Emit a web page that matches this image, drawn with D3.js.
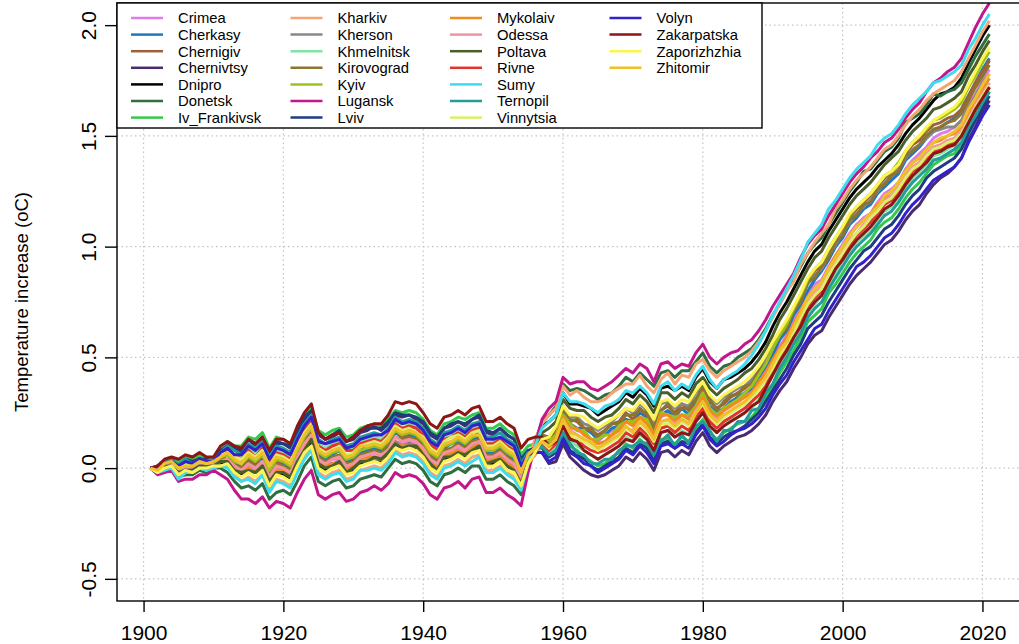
<!DOCTYPE html>
<html>
<head>
<meta charset="utf-8">
<script src="https://cdn.jsdelivr.net/npm/d3@7"></script>
<style>
  body { margin: 0; background: #fff; }
  svg { display: block; font-family: "Liberation Sans", Arial, Helvetica, sans-serif; }
</style>
</head>
<body>
<div id="chart"></div>
<script>
// temperature increase relative to 1901, one value per year 1901..2021,
// stored in hundredths of a degree C
var firstYear = 1901;

var crimea = [
  0,-1,0,2,-2,0,-1,1,1,2,
  3,4,1,-2,1,-1,3,-5,0,-1,
  -3,4,9,14,3,1,4,4,0,1,
  4,5,7,5,8,12,11,12,11,8,
  3,1,6,7,9,7,10,11,4,4,
  6,3,1,-6,3,7,11,10,15,23,
  19,17,16,13,12,15,17,18,21,20,
  23,22,17,23,25,23,24,23,28,32,
  27,23,26,28,31,33,35,39,44,49,
  55,60,66,72,78,83,85,91,96,101,
  106,110,113,115,120,124,126,129,135,139,
  142,145,149,151,152,154,157,164,169,175,180];
var cherkasy = [
  0,-1,1,3,-1,1,1,2,2,2,
  4,6,3,0,4,2,5,-2,3,2,
  0,7,13,17,6,4,6,8,3,4,
  7,8,9,8,11,16,14,15,14,11,
  6,4,9,11,12,10,13,14,7,7,
  9,6,4,-3,5,9,13,12,16,25,
  20,18,18,16,13,15,18,19,22,21,
  25,23,17,24,26,23,27,24,29,34,
  28,25,27,30,32,34,36,41,46,51,
  58,62,69,74,80,85,89,94,100,104,
  110,113,117,119,124,127,130,133,139,142,
  145,149,152,154,156,158,162,168,174,180,185];
var chernigiv = [
  0,-2,1,2,0,2,0,3,1,3,
  5,6,4,2,5,2,6,-1,3,3,
  1,8,14,17,7,5,8,8,4,6,
  8,10,10,9,13,17,14,16,15,12,
  7,4,10,11,13,11,14,16,8,8,
  10,7,5,-2,6,10,15,14,18,27,
  22,21,18,17,15,17,20,21,25,22,
  27,24,19,26,28,25,29,26,31,36,
  30,27,29,32,34,36,39,43,49,54,
  61,66,72,78,84,89,92,98,103,108,
  113,117,120,123,127,131,133,137,142,146,
  148,152,155,156,158,159,162,168,174,179,184];
var chernivtsy = [
  0,0,3,4,2,5,3,5,4,4,
  8,11,9,8,13,11,14,7,12,11,
  9,15,22,25,15,13,14,16,12,13,
  16,17,19,17,20,24,23,24,22,20,
  15,13,18,19,21,19,22,23,16,15,
  18,15,13,3,7,7,7,2,3,11,
  5,2,-1,-3,-4,-3,-1,1,5,3,
  7,4,-1,7,8,5,8,6,12,16,
  10,7,10,12,14,15,17,20,24,30,
  35,39,45,50,56,60,62,68,73,78,
  83,87,90,93,97,101,103,107,112,116,
  119,124,128,131,133,136,140,148,154,161,166];
var dnipro = [
  0,-1,1,1,-2,0,-1,1,0,1,
  2,3,-1,-3,-1,-2,0,-7,-2,-3,
  -5,2,8,12,1,-1,2,2,-2,-1,
  2,3,4,3,6,11,9,11,9,6,
  1,-1,4,5,7,5,7,9,2,2,
  4,1,-1,-6,4,11,19,21,24,34,
  29,29,28,27,24,26,28,30,34,32,
  36,33,28,36,37,35,37,35,41,45,
  39,36,40,41,43,45,48,52,57,64,
  70,75,81,87,93,98,101,107,112,117,
  122,126,129,132,136,139,142,146,151,155,
  158,162,166,169,170,172,176,183,189,195,200];
var donetsk = [
  0,-2,-1,0,-4,-3,-3,-1,-2,0,
  0,-2,-6,-9,-8,-10,-7,-14,-11,-10,
  -12,-6,1,5,-6,-8,-6,-5,-9,-8,
  -5,-4,-3,-4,0,4,2,3,2,-1,
  -6,-8,-3,-2,0,-2,1,1,-5,-5,
  -3,-6,-8,-12,1,12,21,24,28,38,
  35,36,35,33,31,33,34,37,41,39,
  43,40,37,43,44,41,44,44,48,52,
  46,43,46,47,50,52,54,58,63,69,
  74,80,85,91,97,101,104,110,115,120,
  125,129,134,135,139,143,145,149,156,158,
  160,164,169,168,170,171,174,180,186,191,196];
var ivFrankivsk = [
  0,0,3,3,3,5,4,6,4,4,
  9,12,10,10,14,13,16,9,14,13,
  11,18,24,27,17,15,17,18,14,15,
  18,19,20,19,22,26,25,26,25,22,
  17,15,20,21,23,22,24,25,18,18,
  20,17,15,6,10,11,11,7,9,16,
  10,8,5,3,1,2,5,7,11,9,
  13,10,5,13,13,11,14,12,18,22,
  16,13,16,18,20,21,23,27,32,37,
  43,48,53,59,66,69,72,79,83,88,
  93,97,100,103,108,111,113,117,122,126,
  129,133,137,139,141,142,146,153,159,165,170];
var kharkiv = [
  0,-2,0,1,-3,-1,-2,0,-1,1,
  1,1,-3,-6,-4,-6,-3,-10,-5,-6,
  -8,-1,5,9,-2,-4,-2,-1,-5,-4,
  -1,0,1,0,3,8,6,7,6,3,
  -2,-4,1,2,4,2,5,6,-1,-1,
  1,-2,-4,-9,4,13,20,24,27,37,
  33,35,32,30,30,31,34,36,38,38,
  42,37,34,40,43,38,42,41,47,49,
  44,41,44,46,48,50,53,57,62,68,
  74,80,84,92,97,102,106,110,117,121,
  126,130,133,136,140,144,146,150,155,159,
  162,166,169,171,173,175,179,185,191,197,202];
var kherson = [
  0,0,0,1,-2,0,-1,1,1,1,
  3,3,1,-2,0,-2,1,-6,-1,-2,
  -4,3,9,13,2,1,2,3,-1,0,
  3,4,4,4,7,12,10,11,10,7,
  2,0,5,6,7,6,9,10,3,3,
  5,2,0,-6,3,8,13,14,18,28,
  23,23,20,19,17,19,21,24,27,25,
  29,26,21,29,30,27,29,28,34,38,
  32,29,32,34,36,37,40,44,49,55,
  60,65,71,76,83,87,90,96,101,106,
  111,115,118,121,125,129,132,135,140,144,
  146,149,152,153,154,154,157,163,168,174,178];
var khmelnitsk = [
  0,0,2,3,1,3,2,4,3,3,
  6,8,6,5,9,7,10,3,8,7,
  5,12,17,22,11,9,11,12,8,9,
  12,13,14,13,16,21,20,20,19,16,
  11,9,14,15,17,15,18,19,11,12,
  14,11,9,1,7,8,10,7,10,18,
  12,10,8,6,4,6,8,10,14,12,
  15,13,8,16,17,14,17,15,21,25,
  19,16,19,22,23,25,27,31,36,42,
  47,52,58,64,70,74,78,83,88,93,
  98,102,105,108,112,116,118,121,127,131,
  134,137,141,142,144,146,149,156,161,167,172];
var kirovograd = [
  0,-1,1,1,-1,2,0,2,1,2,
  4,4,2,0,3,1,3,-3,2,1,
  -1,6,12,15,5,3,5,6,2,3,
  6,7,8,7,10,14,13,14,13,10,
  5,3,8,9,11,9,12,13,6,6,
  8,5,3,-4,5,9,14,13,17,27,
  21,22,18,18,14,17,20,20,24,24,
  26,25,18,26,29,24,27,27,31,37,
  31,26,30,33,33,37,38,44,47,54,
  60,63,71,75,84,86,91,95,102,105,
  112,114,119,120,126,128,132,134,141,143,
  146,150,153,154,156,157,160,166,172,177,182];
var kyiv = [
  0,-1,1,2,0,2,1,3,1,2,
  5,6,3,2,5,3,6,-1,4,3,
  1,8,14,18,7,5,7,8,4,5,
  8,9,10,9,12,17,15,16,15,12,
  7,5,10,11,13,11,14,15,8,8,
  10,7,5,-2,6,9,13,12,15,24,
  20,17,17,13,13,15,15,19,21,21,
  23,22,15,25,24,23,24,24,28,34,
  27,24,27,29,31,34,37,42,47,54,
  60,65,72,78,85,90,93,99,104,109,
  114,118,121,124,128,132,134,138,143,147,
  150,153,157,158,160,162,165,172,177,183,188];
var lugansk = [
  0,-3,-2,-1,-6,-5,-5,-3,-3,-1,
  -3,-5,-10,-14,-14,-16,-13,-18,-15,-16,
  -18,-11,-5,-1,-12,-14,-12,-11,-15,-14,
  -11,-10,-8,-10,-7,-2,-4,-3,-4,-7,
  -12,-14,-9,-8,-6,-9,-5,-4,-11,-11,
  -9,-12,-14,-17,-2,10,22,27,30,41,
  38,39,39,36,35,37,39,42,45,43,
  47,45,39,47,48,45,47,46,52,56,
  50,47,50,52,53,56,58,62,67,73,
  78,83,88,95,101,105,108,114,119,124,
  129,133,136,140,143,147,149,153,158,162,
  165,170,174,176,179,181,185,192,199,205,210];
var lviv = [
  0,1,2,4,1,4,3,4,4,3,
  8,10,9,7,13,10,13,7,11,11,
  10,16,23,26,16,13,15,17,12,14,
  17,18,18,18,21,25,24,24,23,21,
  16,14,18,20,21,20,22,24,17,16,
  18,15,13,4,8,9,9,5,7,14,
  8,6,4,1,-1,1,3,5,9,7,
  11,9,3,11,12,9,12,11,16,20,
  14,11,14,16,17,19,22,25,30,35,
  40,45,51,56,63,66,69,75,80,85,
  90,94,98,100,104,108,110,114,119,123,
  126,131,134,136,138,140,144,151,157,163,168];
var mykolaiv = [
  0,-1,1,1,-2,-1,-1,0,0,1,
  3,4,0,-1,0,-2,2,-6,-1,-1,
  -3,3,10,13,2,1,2,2,-1,1,
  3,5,5,4,8,11,10,10,10,7,
  2,1,5,7,8,6,9,11,3,4,
  5,2,0,-7,2,6,10,9,14,23,
  18,18,15,13,11,12,15,17,21,19,
  23,20,15,24,24,21,24,22,27,32,
  26,23,26,28,30,32,34,39,43,49,
  54,59,65,71,77,81,84,90,96,100,
  105,109,112,115,119,122,125,129,134,138,
  140,144,147,148,150,151,154,160,166,171,176];
var odessa = [
  0,-2,1,2,-1,1,-1,2,1,2,
  3,4,1,-1,2,0,3,-4,1,0,
  -2,5,11,15,4,2,4,5,1,2,
  5,6,7,6,8,14,12,13,12,9,
  4,2,7,8,10,8,11,12,5,5,
  7,4,2,-5,3,6,11,9,12,21,
  17,15,13,11,9,11,13,15,18,17,
  21,18,13,21,22,20,22,20,26,30,
  24,22,24,26,28,30,32,36,41,47,
  53,57,63,69,75,79,82,88,93,98,
  103,106,110,113,117,121,123,127,132,136,
  138,142,145,146,148,149,152,158,164,169,174];
var poltava = [
  0,-1,1,1,-2,-1,-1,1,1,1,
  3,3,-1,-2,-1,-2,1,-6,-2,-2,
  -4,3,8,13,2,0,1,3,-2,0,
  3,3,5,4,7,11,9,10,10,6,
  2,-1,5,5,7,6,8,10,2,3,
  4,1,-1,-7,3,9,16,18,21,31,
  27,26,26,23,21,23,24,27,31,29,
  33,30,25,34,34,31,34,32,38,41,
  36,33,36,38,40,43,45,49,54,60,
  67,72,78,84,90,95,98,104,109,114,
  119,123,126,129,133,137,140,143,148,152,
  155,158,162,163,165,167,170,177,182,188,193];
var rivne = [
  0,0,2,3,1,3,2,4,2,3,
  6,8,6,4,8,5,9,2,7,6,
  4,11,17,21,10,8,10,11,8,8,
  11,12,13,12,15,20,18,19,18,15,
  11,8,13,14,16,14,17,18,11,11,
  13,10,8,0,6,9,11,8,11,20,
  14,13,10,8,7,8,10,12,16,14,
  18,15,11,18,19,16,19,17,23,27,
  21,18,21,23,25,27,30,33,37,44,
  50,55,61,67,73,77,80,86,91,96,
  101,105,108,111,115,119,121,125,129,134,
  136,140,143,144,146,147,150,156,162,167,172];
var sumy = [
  0,-2,-1,0,-5,-2,-2,0,-1,0,
  1,0,-4,-6,-5,-7,-3,-11,-6,-7,
  -9,-2,4,8,-3,-5,-3,-2,-6,-5,
  -1,-1,0,-1,2,7,5,6,5,2,
  -3,-5,0,1,3,1,3,5,-2,-2,
  0,-3,-5,-10,2,10,18,21,24,34,
  30,30,29,27,25,28,29,31,35,34,
  37,34,29,37,39,35,38,36,42,46,
  40,36,40,42,44,47,51,56,62,69,
  75,81,87,94,102,106,110,117,121,126,
  131,135,138,141,146,149,151,155,160,164,
  167,170,174,175,177,179,182,189,194,200,205];
var ternopil = [
  0,0,3,4,1,4,2,4,3,4,
  7,10,8,6,11,9,12,5,10,9,
  7,14,20,24,13,11,13,14,10,11,
  14,15,16,15,18,23,21,22,21,18,
  13,11,16,17,19,17,20,21,14,14,
  16,13,11,2,7,8,10,6,8,16,
  11,7,6,2,2,4,4,8,10,10,
  12,11,6,12,15,10,15,11,19,21,
  17,12,17,17,21,21,26,27,34,38,
  45,50,56,61,68,72,75,81,86,91,
  96,100,103,106,110,114,116,120,125,129,
  132,135,139,140,142,144,147,154,159,165,170];
var vinnytsia = [
  0,-1,2,3,0,2,1,3,2,3,
  6,7,5,4,7,5,8,1,6,5,
  3,10,16,20,9,7,8,10,6,7,
  10,11,12,11,14,19,17,18,16,14,
  9,7,12,14,15,13,16,17,10,10,
  12,9,7,-1,6,9,12,9,13,21,
  15,13,12,10,8,10,12,14,18,16,
  20,17,12,20,20,18,21,19,25,29,
  23,20,23,25,27,29,32,35,40,45,
  51,56,61,68,74,78,81,87,92,97,
  102,106,109,113,116,120,122,126,131,135,
  137,141,144,145,147,148,151,157,163,168,173];
var volyn = [
  0,0,2,3,1,3,2,4,3,3,
  7,9,6,6,10,8,11,4,9,8,
  6,13,19,23,12,11,12,13,9,10,
  13,14,15,15,17,22,20,21,20,17,
  12,10,15,16,18,16,19,20,13,13,
  14,12,10,1,6,7,7,3,5,13,
  7,5,2,1,-2,0,2,4,8,6,
  10,7,2,10,11,9,11,9,15,19,
  13,10,12,15,17,18,20,23,27,33,
  38,42,48,53,58,63,65,71,76,81,
  86,91,93,96,100,104,106,110,115,119,
  122,126,130,132,134,136,140,147,153,159,164];
var zakarpatska = [
  0,1,4,5,4,6,5,7,5,5,
  10,12,10,9,13,11,14,8,13,13,
  11,19,25,29,16,13,15,16,12,14,
  17,19,20,20,24,30,29,30,29,25,
  20,18,23,24,26,24,27,28,21,21,
  23,20,18,9,13,14,14,10,12,19,
  13,12,8,6,4,6,8,10,13,12,
  16,13,8,16,17,14,16,15,21,25,
  19,16,19,21,23,25,28,30,36,42,
  48,53,59,64,71,75,78,84,90,94,
  99,103,106,109,113,117,119,123,128,132,
  135,138,142,143,145,146,150,156,162,167,172];
var zaporizhzhia = [
  0,-2,0,1,-3,-1,-2,0,0,1,
  1,2,-2,-4,-2,-4,-1,-8,-3,-4,
  -6,1,7,10,0,-2,0,1,-3,-2,
  1,2,3,2,5,9,8,9,8,5,
  0,-2,3,4,6,4,7,8,1,1,
  3,-1,-2,-8,2,7,13,14,19,28,
  24,24,23,20,18,20,22,24,27,26,
  30,27,22,30,31,28,31,30,35,39,
  33,30,33,35,37,39,42,46,51,57,
  62,67,73,79,86,90,93,99,104,109,
  115,118,121,124,128,132,134,137,143,147,
  150,154,157,159,161,163,167,173,179,185,190];
var zhitomir = [
  0,-1,2,3,0,1,1,3,2,3,
  5,7,4,2,6,4,7,1,5,4,
  2,9,15,19,8,6,8,9,5,6,
  10,10,11,10,13,18,16,17,16,13,
  8,6,11,12,14,12,15,15,9,9,
  11,8,6,-2,6,9,12,10,13,22,
  16,15,13,12,9,11,13,15,19,16,
  21,18,13,21,22,19,22,20,25,30,
  24,21,24,26,28,30,33,37,41,47,
  53,57,64,70,77,81,84,90,95,100,
  105,109,112,115,118,123,125,129,134,138,
  140,144,147,149,150,152,155,162,167,173,178];

var regions = ["Crimea", "Cherkasy", "Chernigiv", "Chernivtsy", "Dnipro", "Donetsk", "Iv_Frankivsk",
  "Kharkiv", "Kherson", "Khmelnitsk", "Kirovograd", "Kyiv", "Lugansk", "Lviv",
  "Mykolaiv", "Odessa", "Poltava", "Rivne", "Sumy", "Ternopil", "Vinnytsia",
  "Volyn", "Zakarpatska", "Zaporizhzhia", "Zhitomir"];
var regionColors = ["#e07be8", "#1e78c0", "#a0603a", "#4a2a70", "#000000", "#2e6e40", "#33c94a",
  "#f4a672", "#888888", "#7fe3a3", "#8c7530", "#9bc31c", "#c2178c", "#1d3d80",
  "#f08c1e", "#f3939e", "#4a5e2a", "#e0342e", "#3fdcef", "#259c9c", "#d8f06a",
  "#3322cc", "#8e1515", "#fdf451", "#f0c02a"];
var regionValues = [crimea, cherkasy, chernigiv, chernivtsy, dnipro, donetsk, ivFrankivsk,
  kharkiv, kherson, khmelnitsk, kirovograd, kyiv, lugansk, lviv,
  mykolaiv, odessa, poltava, rivne, sumy, ternopil, vinnytsia,
  volyn, zakarpatska, zaporizhzhia, zhitomir];

var xTicks = [1900, 1920, 1940, 1960, 1980, 2000, 2020];
var yTicks = [-0.5, 0, 0.5, 1, 1.5, 2];
var yTickLabels = ["-0.5", "0.0", "0.5", "1.0", "1.5", "2.0"];

var width = 1019, height = 644;
// the plot box runs a little past the right edge of the picture
var plot = { left: 117, top: 3, right: 1023, bottom: 601 };

var svg = d3.select("#chart").append("svg")
  .attr("width", width)
  .attr("height", height);

var x = d3.scaleLinear().domain([1896.2, 2025.8]).range([plot.left, plot.right]);
var y = d3.scaleLinear().domain([-0.6, 2.1]).range([plot.bottom, plot.top]);

svg.append("defs").append("clipPath").attr("id", "plotClip")
  .append("rect")
  .attr("x", plot.left).attr("y", plot.top)
  .attr("width", plot.right - plot.left).attr("height", plot.bottom - plot.top);

// dotted grid
var grid = svg.append("g")
  .attr("stroke", "#c4c4c4")
  .attr("stroke-width", 1.2)
  .attr("stroke-dasharray", "1.5,3");
grid.selectAll(".vgrid").data(xTicks).join("line")
  .attr("x1", d => x(d)).attr("x2", d => x(d))
  .attr("y1", plot.top).attr("y2", plot.bottom);
grid.selectAll(".hgrid").data(yTicks).join("line")
  .attr("x1", plot.left).attr("x2", plot.right)
  .attr("y1", d => y(d)).attr("y2", d => y(d));

// series
var line = d3.line()
  .x((d, i) => x(firstYear + i))
  .y(d => y(d / 100));

svg.append("g")
  .attr("clip-path", "url(#plotClip)")
  .selectAll("path")
  .data(regionValues)
  .join("path")
  .attr("d", line)
  .attr("fill", "none")
  .attr("stroke", (d, i) => regionColors[i])
  .attr("stroke-width", 3)
  .attr("stroke-linejoin", "round");

// axes
var xAxis = svg.append("g")
  .attr("transform", "translate(0," + plot.bottom + ")")
  .call(d3.axisBottom(x).tickValues(xTicks).tickFormat(d3.format("d")).tickSize(11));
xAxis.select(".domain").remove();
xAxis.selectAll("line").attr("stroke", "#000").attr("stroke-width", 1.4);
xAxis.selectAll("text")
  .attr("y", 39).attr("dy", null)
  .attr("fill", "#000")
  .style("font-size", "21px")
  .style("font-family", "'Liberation Sans', Arial, sans-serif");

var yAxis = svg.append("g")
  .attr("transform", "translate(" + plot.left + ",0)")
  .call(d3.axisLeft(y).tickValues(yTicks).tickFormat((d, i) => yTickLabels[i]).tickSize(12));
yAxis.select(".domain").remove();
yAxis.selectAll("line").attr("stroke", "#000").attr("stroke-width", 1.4);
yAxis.selectAll("text")
  .attr("x", 0).attr("dy", null)
  .attr("transform", "translate(-21,0) rotate(-90)")
  .attr("text-anchor", "middle")
  .attr("fill", "#000")
  .style("font-size", "21px")
  .style("font-family", "'Liberation Sans', Arial, sans-serif");

// plot box
svg.append("rect")
  .attr("x", plot.left).attr("y", plot.top)
  .attr("width", plot.right - plot.left).attr("height", plot.bottom - plot.top)
  .attr("fill", "none").attr("stroke", "#000").attr("stroke-width", 1.4);

// y title
svg.append("text")
  .attr("transform", "translate(28," + ((plot.top + plot.bottom) / 2) + ") rotate(-90)")
  .attr("text-anchor", "middle")
  .style("font-size", "18.5px")
  .text("Temperature increase (oC)");

// legend, 4 columns of 7
var legend = svg.append("g");
legend.append("rect")
  .attr("x", plot.left).attr("y", plot.top)
  .attr("width", 645).attr("height", 125)
  .attr("fill", "#fff").attr("stroke", "#000").attr("stroke-width", 1.4);

var item = legend.selectAll(".item").data(regions).join("g")
  .attr("transform", (d, i) => "translate(" + (131 + Math.floor(i / 7) * 159.5) + "," + (18 + (i % 7) * 16.6) + ")");
item.append("line")
  .attr("x1", 0).attr("x2", 32)
  .attr("stroke", (d, i) => regionColors[i])
  .attr("stroke-width", 2.5);
item.append("text")
  .attr("x", 47).attr("dy", "0.36em")
  .style("font-size", "14.8px")
  .text(d => d);
</script>
</body>
</html>
